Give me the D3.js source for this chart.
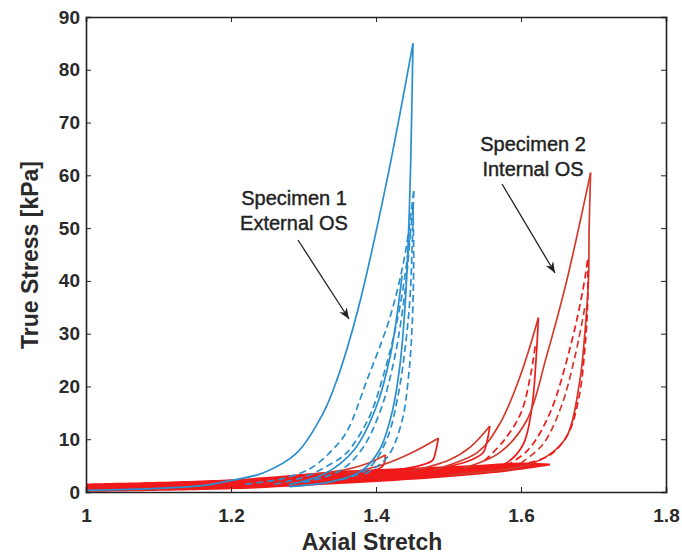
<!DOCTYPE html>
<html>
<head>
<meta charset="utf-8">
<script src="https://cdn.jsdelivr.net/npm/d3@7"></script>
<style>
  body { margin: 0; background: #fff; }
  text { font-family: "Liberation Sans", Arial, sans-serif; }
</style>
</head>
<body>
<div id="container"></div>
<script>
let w = 682;
let h = 554;

// axis ticks
const xTicks = [1, 1.2, 1.4, 1.6, 1.8];
const xTickLabels = ["1", "1.2", "1.4", "1.6", "1.8"];
const yTicks = [0, 10, 20, 30, 40, 50, 60, 70, 80, 90];

// specimen 1 (external OS), [stretch, stress kPa]
const s1Load = [[1.00,0.3],[1.10,0.7],[1.16,1.2],[1.20,2.2],[1.244,3.6],[1.29,7.3],[1.327,14.9],[1.346,21.2],[1.375,34.5],[1.415,59],[1.451,85]];
const s1Unload = [[1.451,85],[1.449,70],[1.447,58],[1.444,46],[1.440,35],[1.433,24],[1.422,15],[1.405,8],[1.38,4],[1.34,2],[1.28,1]];
const s1Load2 = [[1.28,1.4],[1.33,3.5],[1.37,8],[1.40,16],[1.42,26],[1.436,41]];
const s1Dash1 = [[1.22,1.5],[1.27,2.5],[1.31,4.5],[1.34,8],[1.36,11.5],[1.387,21],[1.419,33],[1.44,45],[1.452,57]];
const s1Dash2 = [[1.26,1.5],[1.30,2.8],[1.34,5.5],[1.36,7.5],[1.39,14],[1.41,22],[1.43,33],[1.443,44],[1.451,54]];
const s1Dash3 = [[1.30,1.8],[1.35,4],[1.38,8],[1.405,15],[1.425,25],[1.44,38],[1.448,50]];
const s1Dash4 = [[1.452,57],[1.45,47],[1.447,37],[1.44,27],[1.43,18],[1.415,10],[1.39,4.5],[1.35,2.2]];
const s1Dash5 = [[1.451,54],[1.452,44],[1.45,32],[1.445,22],[1.435,13],[1.415,6.5],[1.38,3]];

// specimen 2 (internal OS)
const s2BandLow = [[1.00,0.0],[1.20,0.5],[1.35,1.5],[1.45,2.3],[1.55,3.4],[1.60,4.2],[1.64,5.0]];
const s2BandHigh = [[1.00,1.6],[1.20,2.4],[1.35,4.0],[1.45,4.6],[1.55,5.2],[1.60,5.6],[1.64,5.4]];
const s2LoadA = [[1.30,3.2],[1.36,4.3],[1.39,5.5],[1.413,7.0]];
const s2UnloadA = [[1.413,7.0],[1.41,5.0],[1.40,4.2],[1.37,3.5],[1.32,2.8]];
const s2LoadB = [[1.36,3.5],[1.41,5.2],[1.45,7.5],[1.486,10.2]];
const s2UnloadB = [[1.486,10.2],[1.482,7.5],[1.478,6.0],[1.46,5.0],[1.43,4.2],[1.40,3.5]];
const s2LoadC = [[1.45,4.0],[1.50,6.0],[1.53,8.5],[1.557,12.5]];
const s2UnloadC = [[1.557,12.5],[1.553,9.5],[1.548,7.5],[1.53,6.0],[1.50,4.8]];
const s2LoadD = [[1.48,4.2],[1.54,7.5],[1.571,13],[1.599,22],[1.624,33]];
const s2UnloadD = [[1.624,33],[1.621,25.6],[1.615,16],[1.603,9],[1.58,5.5],[1.55,4.2]];
const s2LoadE = [[1.52,4.5],[1.571,7.5],[1.608,13.6],[1.635,25.6],[1.663,40],[1.696,60.5]];
const s2UnloadE = [[1.696,60.5],[1.694,50],[1.693,40],[1.688,30],[1.681,21],[1.663,10.5],[1.635,6.7],[1.60,4.8],[1.55,3.8],[1.50,3.2]];
const s2DashE1 = [[1.58,5],[1.61,8],[1.64,15],[1.668,27.5],[1.685,38],[1.692,44]];
const s2DashE2 = [[1.692,44],[1.692,36],[1.688,27],[1.68,18],[1.665,11],[1.64,7],[1.61,5.5]];
const s2DashE3 = [[1.60,5.5],[1.63,9],[1.655,16],[1.675,26],[1.688,35]];
const s2DashD = [[1.55,6],[1.575,9.5],[1.60,15],[1.613,22],[1.62,28]];

const labels1 = ["Specimen 1", "External OS"];
const labels2 = ["Specimen 2", "Internal OS"];

let viz = d3.select("#container")
  .append("svg")
    .attr("width", w)
    .attr("height", h)
    .style("background-color", "white");

let padLeft = 86, padRight = 666, padTop = 17, padBottom = 492;

let xScale = d3.scaleLinear().domain([1, 1.8]).range([padLeft, padRight]);
let yScale = d3.scaleLinear().domain([0, 90]).range([padBottom, padTop]);

let line = d3.line()
  .x(d => xScale(d[0])).y(d => yScale(d[1]))
  .curve(d3.curveCatmullRom.alpha(0.5));

let blue = "#2b8fcf";
let redBright = "#f01a1a";
let redDark = "#d23a2c";

let plot = viz.append("g").attr("class", "plot");

// thick band of red curves at the bottom
let band = d3.area()
  .x(d => xScale(d[0]))
  .y0((d, i) => yScale(s2BandLow[i][1]))
  .y1(d => yScale(d[1]))
  .curve(d3.curveCatmullRom.alpha(0.5));
plot.append("path").datum(s2BandHigh)
  .attr("d", band)
  .attr("fill", redBright);

const curves = [
  {pts: s2LoadA, color: redDark}, {pts: s2UnloadA, color: redBright},
  {pts: s2LoadB, color: redDark}, {pts: s2UnloadB, color: redBright},
  {pts: s2LoadC, color: redDark}, {pts: s2UnloadC, color: redBright},
  {pts: s2LoadD, color: redDark}, {pts: s2UnloadD, color: redBright},
  {pts: s2LoadE, color: redDark}, {pts: s2UnloadE, color: redDark},
  {pts: s2DashE1, color: redBright, dash: true}, {pts: s2DashE2, color: redBright, dash: true},
  {pts: s2DashE3, color: redDark, dash: true}, {pts: s2DashD, color: redBright, dash: true},
  {pts: s1Load, color: blue}, {pts: s1Unload, color: blue}, {pts: s1Load2, color: blue},
  {pts: s1Dash1, color: blue, dash: true}, {pts: s1Dash2, color: blue, dash: true},
  {pts: s1Dash3, color: blue, dash: true}, {pts: s1Dash4, color: blue, dash: true},
  {pts: s1Dash5, color: blue, dash: true}
];

plot.selectAll(".curve").data(curves)
  .enter()
  .append("path")
    .attr("class", "curve")
    .attr("d", d => line(d.pts))
    .attr("fill", "none")
    .attr("stroke", d => d.color)
    .attr("stroke-width", 1.7)
    .attr("stroke-dasharray", d => d.dash ? "7,4" : null);

// axes, ticks point inwards like matlab
let fontCol = "#2a2a2a";
let xAxis = d3.axisBottom(xScale).tickValues(xTicks)
  .tickFormat((d, i) => xTickLabels[i]).tickSize(-5).tickPadding(17);
let xAxisGroup = viz.append("g").attr("class", "xaxis")
  .attr("transform", "translate(0," + padBottom + ")").call(xAxis);
let yAxis = d3.axisLeft(yScale).tickValues(yTicks).tickSize(-5).tickPadding(6);
let yAxisGroup = viz.append("g").attr("class", "yaxis")
  .attr("transform", "translate(" + padLeft + ",0)").call(yAxis);
viz.append("g").attr("transform", "translate(0," + padTop + ")")
  .call(d3.axisTop(xScale).tickValues(xTicks).tickSize(-5).tickFormat(""));
viz.append("g").attr("transform", "translate(" + padRight + ",0)")
  .call(d3.axisRight(yScale).tickValues(yTicks).tickSize(-5).tickFormat(""));

viz.selectAll(".domain").attr("stroke", "#222").attr("stroke-width", 1.6);
viz.selectAll(".tick line").attr("stroke", "#222");
viz.selectAll(".tick text").attr("font-size", 19).attr("font-weight", "bold").attr("fill", fontCol)
  .style("font-family", "'Liberation Sans', Arial, sans-serif");

viz.append("text")
  .attr("x", 372).attr("y", 550)
  .attr("text-anchor", "middle")
  .attr("font-size", 23).attr("font-weight", "bold").attr("fill", fontCol)
  .text("Axial Stretch");
viz.append("text")
  .attr("transform", "translate(38," + 255 + ") rotate(-90)")
  .attr("text-anchor", "middle")
  .attr("font-size", 23).attr("font-weight", "bold").attr("fill", fontCol)
  .text("True Stress [kPa]");

// annotations
viz.append("defs").append("marker")
  .attr("id", "head")
  .attr("viewBox", "0 0 10 10")
  .attr("refX", 10).attr("refY", 5)
  .attr("markerWidth", 11).attr("markerHeight", 11)
  .attr("markerUnits", "userSpaceOnUse")
  .attr("orient", "auto")
  .append("path").attr("d", "M0,1 L10,5 L0,9 L3,5 Z").attr("fill", "#222");

labels1.forEach((t, i) => {
  viz.append("text").attr("x", 294).attr("y", 205 + i * 25)
    .attr("text-anchor", "middle").attr("font-size", 20).attr("fill", "#222")
    .attr("stroke", "#222").attr("stroke-width", 0.4).text(t);
});
viz.append("line").attr("x1", 298).attr("y1", 240).attr("x2", 349).attr("y2", 319)
  .attr("stroke", "#222").attr("stroke-width", 1.3).attr("marker-end", "url(#head)");

labels2.forEach((t, i) => {
  viz.append("text").attr("x", 533).attr("y", 151 + i * 25)
    .attr("text-anchor", "middle").attr("font-size", 20).attr("fill", "#222")
    .attr("stroke", "#222").attr("stroke-width", 0.4).text(t);
});
viz.append("line").attr("x1", 502).attr("y1", 184).attr("x2", 555).attr("y2", 273)
  .attr("stroke", "#222").attr("stroke-width", 1.3).attr("marker-end", "url(#head)");
</script>
</body>
</html>
